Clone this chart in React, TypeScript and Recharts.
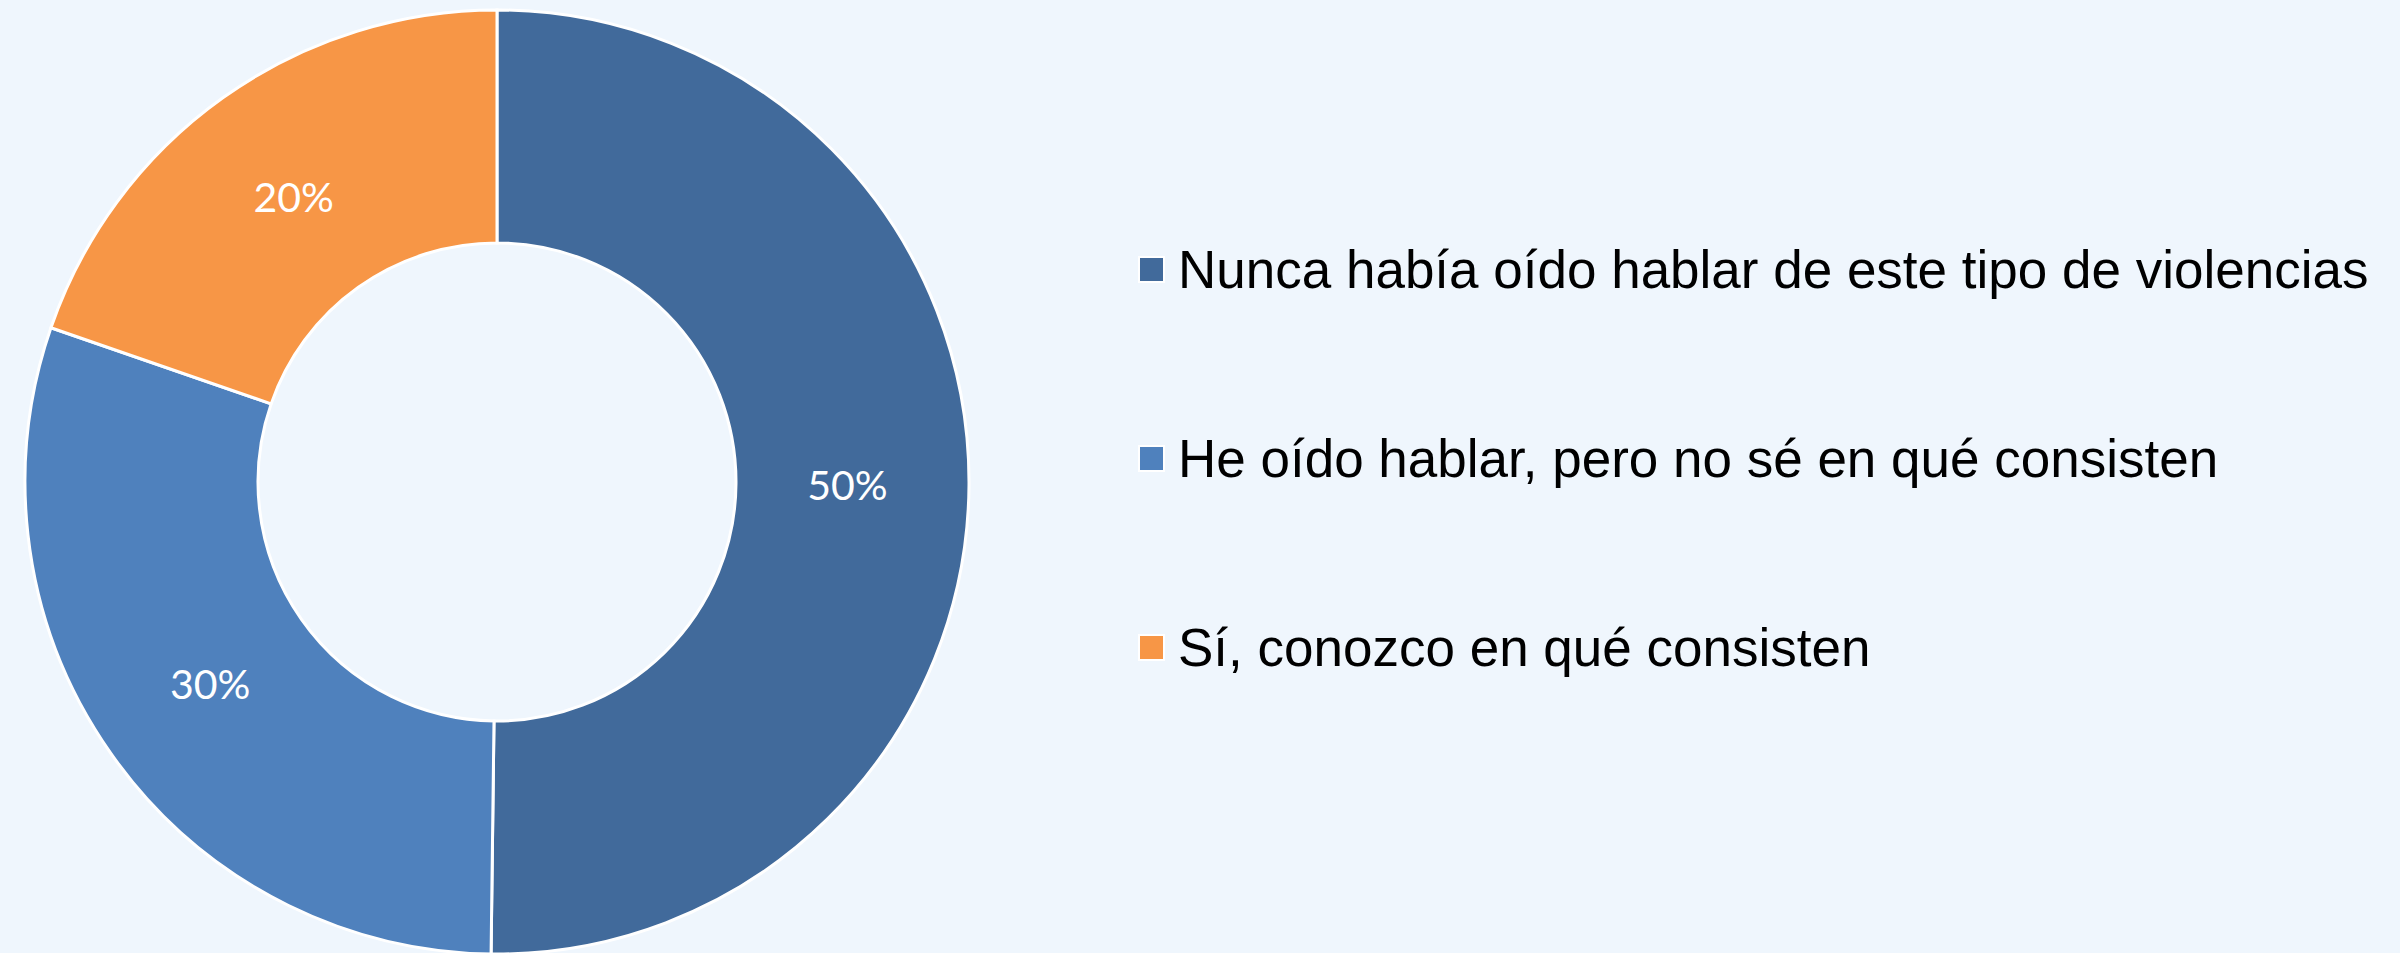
import React from "react";
import { PieChart, Pie, Cell, Legend } from "recharts";

const categories = [
  "Nunca había oído hablar de este tipo de violencias",
  "He oído hablar, pero no sé en qué consisten",
  "Sí, conozco en qué consisten",
];
const values = [50.2, 30.1, 19.7];
const colors = ["#416A9B", "#4F81BD", "#F79646"];

const data = categories.map((name, i) => ({ name, value: values[i] }));

const RADIAN = Math.PI / 180;

const renderLabel = (props: any) => {
  const { cx, cy, midAngle, innerRadius, outerRadius, percent } = props;
  const r = (innerRadius + outerRadius) / 2 - 5;
  const x = cx + r * Math.cos(-midAngle * RADIAN);
  const y = cy + r * Math.sin(-midAngle * RADIAN);
  return (
    <text
      x={x}
      y={y}
      fill="#FFFFFF"
      textAnchor="middle"
      dominantBaseline="central"
      fontFamily="Lato, 'Open Sans', sans-serif"
      fontSize={41}
    >
      {`${Math.round(percent * 100)}%`}
    </text>
  );
};

const renderLegend = (props: any) => {
  const payload = [...(props.payload || [])].sort(
    (a: any, b: any) => categories.indexOf(a.value) - categories.indexOf(b.value)
  );
  return (
    <div>
      {payload.map((entry: any, i: number) => (
        <div
          key={i}
          style={{
            height: 189,
            display: "flex",
            alignItems: "center",
          }}
        >
          <div
            style={{
              width: 23,
              height: 23,
              background: entry.color,
              border: "2px solid #FFFFFF",
              marginRight: 13,
              flex: "none",
            }}
          />
          <span
            style={{
              fontFamily: "'Liberation Sans', Arial, sans-serif",
              fontSize: 53,
              color: "#000000",
              whiteSpace: "nowrap",
              lineHeight: 1,
            }}
          >
            {entry.value}
          </span>
        </div>
      ))}
    </div>
  );
};

export default function App() {
  return (
    <div
      style={{
        position: "fixed",
        left: 0,
        top: 0,
        width: 2400,
        height: 953,
        background: "#EFF6FD",
        overflow: "hidden",
      }}
    >
      <PieChart width={2400} height={953} margin={{ top: 0, right: 0, bottom: 0, left: 0 }}>
        <Pie
          data={data}
          dataKey="value"
          nameKey="name"
          cx={497}
          cy={482}
          innerRadius={239}
          outerRadius={472}
          startAngle={90}
          endAngle={-270}
          stroke="#FFFFFF"
          strokeWidth={3}
          label={renderLabel}
          labelLine={false}
          isAnimationActive={false}
        >
          {data.map((d, i) => (
            <Cell key={d.name} fill={colors[i]} />
          ))}
        </Pie>
        <Legend
          layout="horizontal"
          verticalAlign="middle"
          align="center"
          content={renderLegend}
          wrapperStyle={{ left: 1138, top: 175, width: 1260 }}
        />
      </PieChart>
    </div>
  );
}
